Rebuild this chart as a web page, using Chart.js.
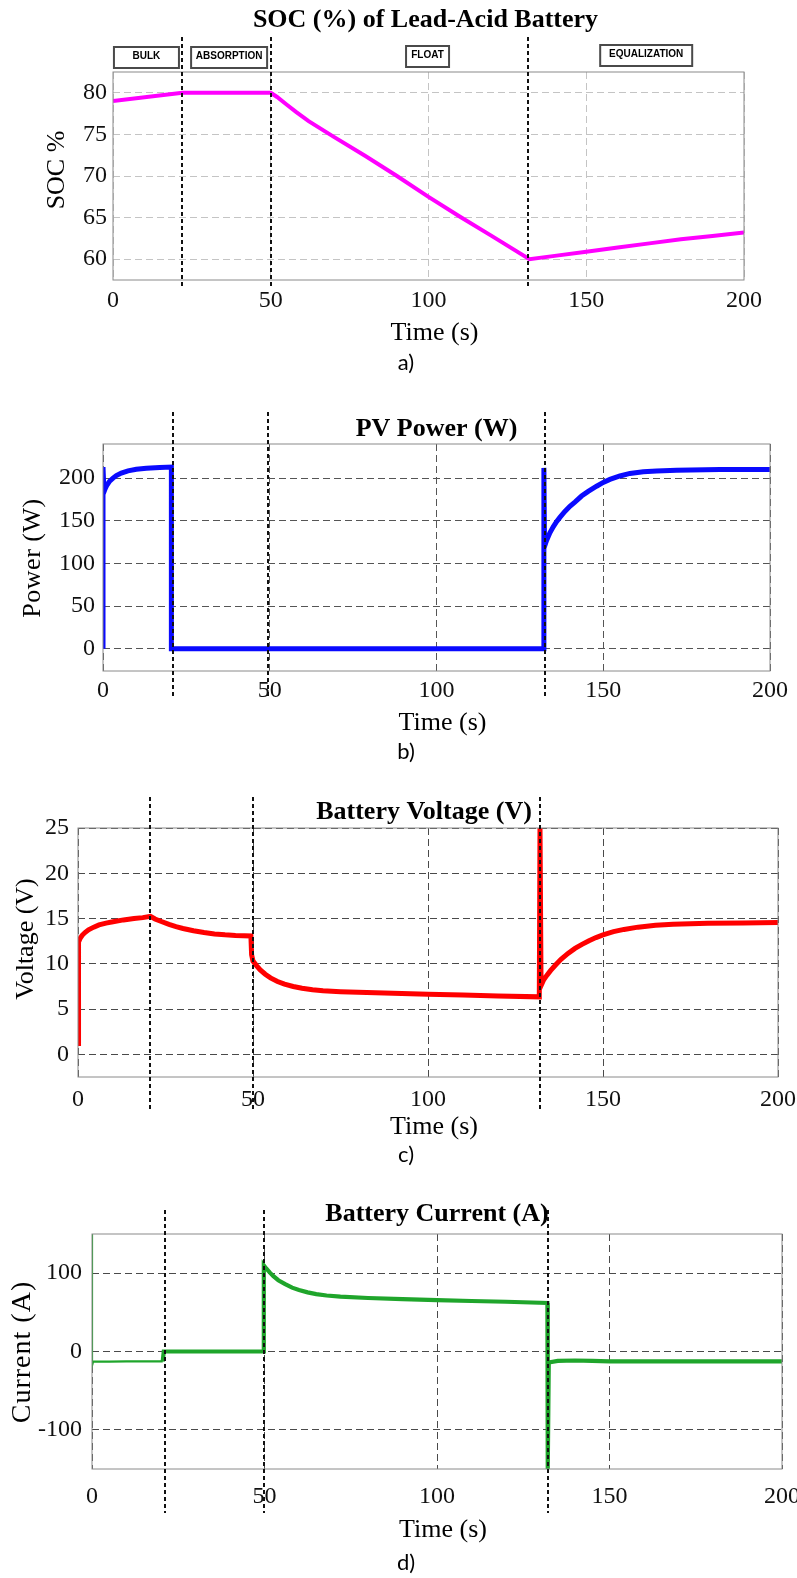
<!DOCTYPE html>
<html>
<head>
<meta charset="utf-8">
<script src="https://cdn.jsdelivr.net/npm/chart.js@4.4.1/dist/chart.umd.min.js"></script>
<style>
  body { margin: 0; background: #fff; }
  #wrap { position: relative; width: 797px; height: 1578px; overflow: hidden; }
  canvas { position: absolute; left: 0; }
</style>
</head>
<body>
<div id="wrap">
  <canvas id="chart-soc" width="797" height="385" style="top:0px"></canvas>
  <canvas id="chart-pv" width="797" height="390" style="top:385px"></canvas>
  <canvas id="chart-volt" width="797" height="395" style="top:775px"></canvas>
  <canvas id="chart-curr" width="797" height="408" style="top:1170px"></canvas>
</div>
<script>
// Données (temps en s)

const timeTicks = [0, 50, 100, 150, 200];

// a) SOC (%)
const socTime  = [0, 22, 50, 52, 55, 58, 62, 70, 80, 90, 100, 110, 120, 132, 140, 150, 160, 170, 180, 190, 200];
const socValue = [79, 80, 80, 79.5, 78.6, 77.7, 76.6, 74.7, 72.4, 70.0, 67.5, 65.1, 62.8, 60, 60.4, 60.9, 61.4, 61.9, 62.4, 62.8, 63.2];
const socTicks = [60, 65, 70, 75, 80];
const socPhases = [22, 50, 131.5];
const phaseNames = ['BULK', 'ABSORPTION', 'FLOAT', 'EQUALIZATION'];

// b) PV Power (W)
const pvTime  = [0, 0, 0.3, 0.7, 1.2, 2, 3, 4, 5.5, 7.5, 10, 13, 17, 20.5, 20.5,
                 132.2, 132.2, 132.4, 133, 134, 135, 136, 137, 138.5, 140, 141.5, 143.5, 145.5, 148, 150, 152, 155, 158, 162, 166, 172, 185, 200];
const pvPower = [0, 213, 184, 188, 192, 196.5, 200, 203, 206, 208.5, 210.3, 211.6, 212.5, 213, 0,
                 0, 212, 120, 127, 136, 143, 149, 154, 161, 167, 172, 179, 184.5, 190.5, 195, 198.5, 202.5, 205.5, 207.5, 208.5, 209.3, 210, 210];
const pvTicks = [0, 50, 100, 150, 200];
const pvPhases = [21, 49.5, 132.4];

// c) Battery Voltage (V)
const vTime  = [0, 0.15, 0.6, 1.2, 2, 3, 4.5, 6, 8, 10, 13, 16, 18.5, 20.7,
                22, 24, 26, 28, 30, 33, 36, 39, 42, 45, 49.4,
                49.6, 50, 51, 52, 53.5, 55, 57, 59, 61.5, 64, 67, 70, 75, 80, 90, 100, 110, 120, 131.8,
                132, 132.3, 133, 134, 135, 136.5, 138, 140, 142, 144, 146, 148, 150, 153, 156, 160, 165, 170, 180, 190, 200];
const vValue = [1.2, 12.4, 12.8, 13.15, 13.45, 13.75, 14.05, 14.3, 14.5, 14.65, 14.85, 15.0, 15.1, 15.25,
                14.95, 14.65, 14.35, 14.1, 13.9, 13.65, 13.45, 13.3, 13.2, 13.13, 13.07,
                11.0, 10.3, 9.8, 9.35, 8.85, 8.45, 8.05, 7.75, 7.5, 7.3, 7.13, 7.02, 6.92, 6.85, 6.75, 6.65, 6.55, 6.45, 6.35,
                25, 7.6, 8.2, 8.75, 9.25, 9.9, 10.5, 11.15, 11.7, 12.15, 12.55, 12.9, 13.2, 13.55, 13.8, 14.05, 14.25, 14.38, 14.48, 14.52, 14.55];
const vTicks = [0, 5, 10, 15, 20, 25];
const vPhases = [20.7, 50, 132];

// d) Battery Current (A)
const iTime  = [0, 0, 0.3, 1, 5, 10, 15, 20.5, 20.8, 25, 30, 40, 49.6,
                49.8, 50.5, 51.5, 52.5, 54, 56, 58, 60, 62.5, 65, 68, 72, 80, 90, 100, 110, 120, 132,
                132.1, 132.4, 135, 140, 145, 150, 160, 180, 200];
const iValue = [150, -18, -13, -13, -13, -12.7, -12.7, -12.7, 0, 0, 0, 0, 0,
                110, 106, 101, 96.5, 91, 86, 81.5, 78.5, 75.5, 73.2, 71.5, 70, 68.3, 66.8, 65.5, 64.5, 63.5, 62,
                -150, -14, -12, -11.5, -12, -12.5, -12.7, -12.7, -12.7];
const iTicks = [-100, 0, 100];
const iPhases = [21.3, 49.8, 132.2];

const SERIF = '"Liberation Serif", "Times New Roman", serif';

function pts(ts, vs) {
    return ts.map((t, i) => ({ x: t, y: vs[i] }));
}

// Habillage façon MATLAB : cadre, lignes de phase, titres, étiquettes
const decorPlugin = {
    id: 'decor',
    afterDraw(chart, args, o) {
        const { ctx, chartArea: a, scales: { x } } = chart;
        const cx = (a.left + a.right) / 2;
        ctx.save();

        // cadre
        ctx.strokeStyle = '#8a8a8a';
        ctx.lineWidth = 1;
        ctx.strokeRect(a.left, a.top, a.right - a.left, a.bottom - a.top);

        // lignes de séparation des phases
        ctx.strokeStyle = '#111';
        ctx.lineWidth = 2;
        ctx.setLineDash([4, 3]);
        o.phases.forEach(t => {
            const px = Math.round(x.getPixelForValue(t));
            ctx.beginPath();
            ctx.moveTo(px, o.phaseTop);
            ctx.lineTo(px, o.phaseBottom);
            ctx.stroke();
        });
        ctx.setLineDash([]);

        // boîtes de noms de phases (graphique a seulement)
        if (o.boxes) {
            ctx.font = 'bold 10px "Liberation Sans", Arial, sans-serif';
            ctx.textAlign = 'center';
            ctx.textBaseline = 'middle';
            o.boxes.forEach((b, i) => {
                const bx = x.getPixelForValue(b.t);
                ctx.fillStyle = '#fff';
                ctx.fillRect(bx - b.w / 2, b.y, b.w, b.h);
                ctx.strokeStyle = '#4a4a4a';
                ctx.lineWidth = 2;
                ctx.strokeRect(bx - b.w / 2, b.y, b.w, b.h);
                ctx.fillStyle = '#000';
                ctx.fillText(phaseNames[i], bx, b.y + b.h / 2 - 1);
            });
        }

        ctx.fillStyle = '#000';
        ctx.textAlign = 'center';
        ctx.textBaseline = 'middle';

        // titre
        ctx.font = 'bold 26px ' + SERIF;
        ctx.fillText(o.title, cx + (o.titleDx || 0), o.titleY);

        // axe x
        ctx.font = '26px ' + SERIF;
        ctx.fillText('Time (s)', cx + 6, o.xLabelY);

        // légende de sous-figure
        ctx.font = '22px Lato, "Noto Sans", sans-serif';
        ctx.fillText(o.caption, 406, o.captionY);

        // axe y
        ctx.save();
        ctx.translate(o.yLabelX, o.yLabelY);
        ctx.rotate(-Math.PI / 2);
        ctx.font = (o.yLabelSize || 26) + 'px ' + SERIF;
        if (o.yLabelSpacing) ctx.letterSpacing = o.yLabelSpacing;
        ctx.fillText(o.yLabel, 0, 0);
        ctx.restore();

        ctx.restore();
    }
};

function makeChart(id, cfg) {
    const canvas = document.getElementById(id);
    const W = canvas.width, H = canvas.height;
    return new Chart(canvas, {
        type: 'line',
        data: {
            datasets: [{
                data: pts(cfg.t, cfg.v),
                borderColor: cfg.color,
                borderWidth: cfg.width,
                segment: cfg.segment,
                pointRadius: 0,
                tension: 0,
                fill: false
            }]
        },
        options: {
            responsive: false,
            animation: false,
            events: [],
            layout: {
                padding: { left: 0, top: cfg.area.top, right: W - cfg.area.right, bottom: 0 }
            },
            scales: {
                x: {
                    type: 'linear',
                    min: 0,
                    max: 200,
                    afterBuildTicks: s => { s.ticks = timeTicks.map(v => ({ value: v })); },
                    afterFit: s => { s.height = H - cfg.area.bottom; s.paddingLeft = 0; s.paddingRight = 0; },
                    grid: { color: cfg.gridColor, lineWidth: 1, drawTicks: false },
                    border: { display: false, dash: [7, 4] },
                    ticks: {
                        padding: cfg.xTickPad,
                        color: '#111',
                        maxRotation: 0,
                        autoSkip: false,
                        font: { family: SERIF, size: 24 }
                    }
                },
                y: {
                    type: 'linear',
                    min: cfg.yMin,
                    max: cfg.yMax,
                    afterBuildTicks: s => { s.ticks = cfg.yTicks.map(v => ({ value: v })); },
                    afterFit: s => { s.width = cfg.area.left; s.paddingTop = 0; s.paddingBottom = 0; },
                    grid: { color: cfg.gridColor, lineWidth: 1, drawTicks: false },
                    border: { display: false, dash: [7, 4] },
                    ticks: {
                        padding: cfg.yTickPad,
                        color: '#111',
                        autoSkip: false,
                        font: { family: SERIF, size: 24 }
                    }
                }
            },
            plugins: {
                legend: { display: false },
                tooltip: { enabled: false },
                decor: cfg.decor
            }
        },
        plugins: [decorPlugin]
    });
}

// a) SOC
makeChart('chart-soc', {
    t: socTime, v: socValue, color: '#ff00ff', width: 4,
    area: { left: 113, right: 744, top: 72, bottom: 280 },
    yMin: 57.5, yMax: 82.5, yTicks: socTicks,
    gridColor: '#c4c4c4', xTickPad: 6, yTickPad: 6,
    decor: {
        phases: socPhases, phaseTop: 37, phaseBottom: 286,
        title: 'SOC (%) of Lead-Acid Battery', titleY: 20, titleDx: -3,
        xLabelY: 333, caption: 'a)', captionY: 363,
        yLabel: 'SOC %', yLabelX: 57, yLabelY: 170,
        boxes: [
            { t: 10.6, w: 65, y: 47, h: 21 },
            { t: 36.8, w: 76, y: 47, h: 21 },
            { t: 99.7, w: 43, y: 46, h: 21 },
            { t: 169, w: 92, y: 45, h: 21 }
        ]
    }
});

// b) PV Power
makeChart('chart-pv', {
    t: pvTime, v: pvPower, color: '#0a0aff', width: 5,
    area: { left: 103, right: 770, top: 59, bottom: 286 },
    yMin: -26, yMax: 240, yTicks: pvTicks,
    gridColor: '#555', xTickPad: 5, yTickPad: 8,
    decor: {
        phases: pvPhases, phaseTop: 27, phaseBottom: 312,
        title: 'PV Power (W)', titleY: 44,
        xLabelY: 338, caption: 'b)', captionY: 367,
        yLabel: 'Power (W)', yLabelX: 33, yLabelY: 173, yLabelSpacing: '0.5px'
    }
});

// c) Battery Voltage
makeChart('chart-volt', {
    t: vTime, v: vValue, color: '#ff0000', width: 5,
    area: { left: 78, right: 778, top: 53, bottom: 302 },
    yMin: -2.5, yMax: 25, yTicks: vTicks,
    gridColor: '#4a4a4a', xTickPad: 8, yTickPad: 9,
    decor: {
        phases: vPhases, phaseTop: 22, phaseBottom: 335,
        title: 'Battery Voltage (V)', titleY: 37, titleDx: -4,
        xLabelY: 352, caption: 'c)', captionY: 380,
        yLabel: 'Voltage (V)', yLabelX: 26, yLabelY: 164
    }
});

// d) Battery Current
makeChart('chart-curr', {
    t: iTime, v: iValue, color: '#1fa52b', width: 4,
    segment: { borderWidth: c => (c.p0.parsed.x < 20.5 ? 2.2 : 4.2) },
    area: { left: 92, right: 782, top: 64, bottom: 299 },
    yMin: -150, yMax: 150, yTicks: iTicks,
    gridColor: '#4a4a4a', xTickPad: 13, yTickPad: 10,
    decor: {
        phases: iPhases, phaseTop: 40, phaseBottom: 343,
        title: 'Battery Current (A)', titleY: 44,
        xLabelY: 360, caption: 'd)', captionY: 393,
        yLabel: 'Current (A)', yLabelX: 23, yLabelY: 182, yLabelSize: 28, yLabelSpacing: '1px'
    }
});
</script>
</body>
</html>
